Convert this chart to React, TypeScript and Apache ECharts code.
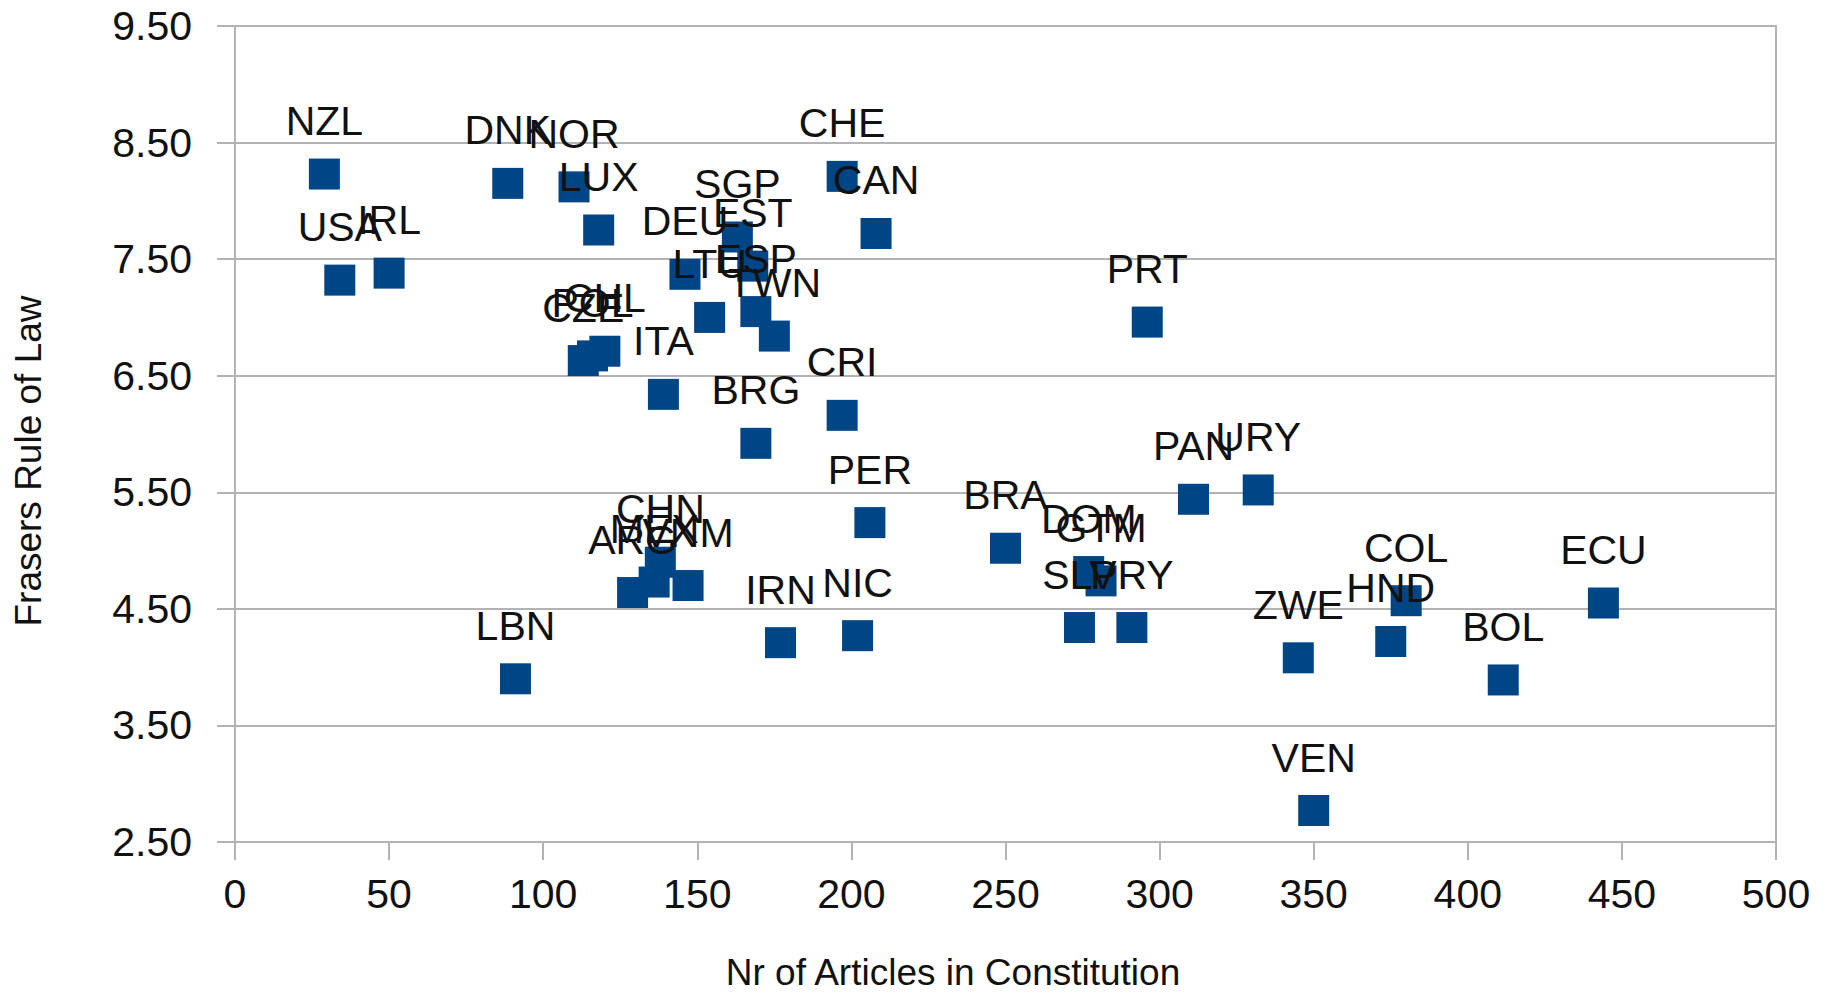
import React, { useEffect, useRef } from "react";
import * as echarts from "echarts";

const countries = [
  "NZL", "USA", "IRL", "DNK", "NOR", "LUX", "CHE", "CAN", "SGP", "EST", "ESP",
  "TWN", "LTU", "DEU", "CZE", "POL", "CHL", "ITA", "BRG", "CRI", "PRT", "PER",
  "CHN", "MEX", "ARG", "VNM", "IRN", "NIC", "LBN", "BRA", "DOM", "GTM", "SLV",
  "PRY", "PAN", "URY", "COL", "HND", "ZWE", "BOL", "ECU", "VEN",
];
const articles = [
  29, 34, 50, 88.5, 110, 118, 197, 208, 163, 168, 169,
  175, 154, 146, 113, 116, 120, 139, 169, 197, 296, 206,
  138, 136, 129, 147, 177, 202, 91, 250, 277, 281, 274,
  291, 311, 332, 380, 375, 345, 411.5, 444, 350,
];
const ruleOfLaw = [
  8.23, 7.32, 7.38, 8.15, 8.12, 7.75, 8.21, 7.72, 7.69, 7.44, 7.05,
  6.84, 7.0, 7.37, 6.63, 6.67, 6.71, 6.34, 5.92, 6.16, 6.96, 5.24,
  4.9, 4.73, 4.64, 4.7, 4.21, 4.27, 3.9, 5.02, 4.82, 4.74, 4.34,
  4.34, 5.44, 5.52, 4.57, 4.22, 4.08, 3.89, 4.55, 2.77,
];
const xTitle = "Nr of Articles in Constitution";
const yTitle = "Frasers Rule of Law";

const FONT = "'Liberation Sans', Arial, sans-serif";
const GRID = "#b3b3b3";

export default function App() {
  const ref = useRef<HTMLDivElement>(null);
  useEffect(() => {
    if (!ref.current) return;
    const chart = echarts.init(ref.current, null, { renderer: "svg" });
    const data = countries.map((c, i) => ({ name: c, value: [articles[i], ruleOfLaw[i]] }));
    chart.setOption({
      animation: false,
      backgroundColor: "#ffffff",
      textStyle: { fontFamily: FONT },
      grid: {
        left: 235,
        right: 50,
        top: 26,
        bottom: 153,
        show: true,
        borderColor: GRID,
        borderWidth: 2,
        containLabel: false,
      },
      xAxis: {
        type: "value",
        min: 0,
        max: 500,
        interval: 50,
        axisLine: { show: true, lineStyle: { color: GRID, width: 2 } },
        axisTick: { show: true, length: 18, lineStyle: { color: GRID, width: 2 } },
        splitLine: { show: false },
        axisLabel: { color: "#111", fontSize: 41, margin: 31, fontFamily: FONT },
      },
      yAxis: {
        type: "value",
        min: 2.5,
        max: 9.5,
        interval: 1,
        axisLine: { show: true, lineStyle: { color: GRID, width: 2 } },
        axisTick: { show: true, length: 18, lineStyle: { color: GRID, width: 2 } },
        splitLine: { show: true, lineStyle: { color: GRID, width: 2 } },
        axisLabel: {
          color: "#111",
          fontSize: 41,
          margin: 43,
          fontFamily: FONT,
          formatter: (v: number) => v.toFixed(2),
        },
      },
      graphic: [
        {
          type: "text",
          x: 953,
          y: 972,
          style: {
            text: xTitle,
            fill: "#111",
            font: `37px ${FONT}`,
            textAlign: "center",
            textVerticalAlign: "middle",
          },
        },
        {
          type: "text",
          x: 28,
          y: 461,
          rotation: Math.PI / 2,
          style: {
            text: yTitle,
            fill: "#111",
            font: `37px ${FONT}`,
            textAlign: "center",
            textVerticalAlign: "middle",
          },
        },
      ],
      series: [
        {
          type: "scatter",
          data,
          symbol: "rect",
          symbolSize: 31,
          itemStyle: { color: "#004586", opacity: 1 },
          label: {
            show: true,
            position: "top",
            distance: 17,
            formatter: (p: any) => p.name,
            color: "#111",
            fontSize: 41,
            fontFamily: FONT,
          },
        },
      ],
    });
    return () => chart.dispose();
  }, []);
  return (
    <div
      ref={ref}
      style={{ position: "absolute", left: 0, top: 0, width: 1826, height: 995 }}
    />
  );
}
